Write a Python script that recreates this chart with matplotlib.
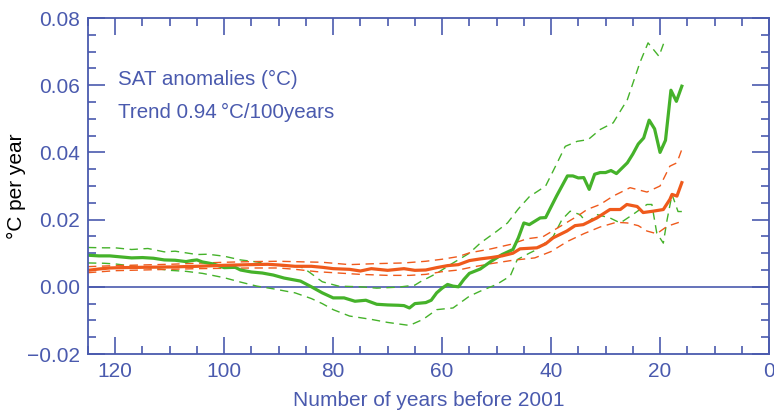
import numpy as np
import matplotlib
matplotlib.use('Agg')
import matplotlib.pyplot as plt
import matplotlib.ticker as ticker

# years before 2001 and trend values (degC per year)
green_x = [125, 123, 121, 119, 117, 115, 113, 111, 109, 107, 106, 105, 104, 102, 100, 98, 97, 95, 93, 91,
           89, 87, 86, 84, 82, 80, 78, 76, 74, 72, 70, 68, 67, 66, 65, 63, 62, 61, 60, 59, 58, 57, 56, 55,
           53, 51, 49, 47, 46, 45, 44, 42, 41, 39, 37, 36, 35, 34, 33, 32, 31, 30, 29, 28, 26, 25, 24, 23,
           22, 21, 20, 19, 18, 17, 16]
green_y = [0.0094, 0.0092, 0.0092, 0.0089, 0.0086, 0.0087, 0.0085, 0.0080, 0.0079, 0.0075, 0.0078, 0.0080,
           0.0074, 0.0068, 0.0057, 0.0058, 0.0050, 0.0044, 0.0041, 0.0035, 0.0026, 0.0020, 0.0017, 0.0000,
           -0.0018, -0.0033, -0.0033, -0.0043, -0.0040, -0.0052, -0.0054, -0.0055, -0.0056, -0.0063, -0.0050,
           -0.0047, -0.0040, -0.0018, -0.0004, 0.0007, 0.0002, 0.0000, 0.0022, 0.0040, 0.0053, 0.0076, 0.0096,
           0.0111, 0.0146, 0.0190, 0.0185, 0.0205, 0.0206, 0.0270, 0.0330, 0.0330, 0.0324, 0.0325, 0.0290,
           0.0335, 0.0340, 0.0340, 0.0346, 0.0337, 0.0369, 0.0395, 0.0425, 0.0443, 0.0496, 0.0470, 0.0400,
           0.0436, 0.0585, 0.0552, 0.0597]

green_hi_x = [125, 122, 120, 117, 114, 111, 109, 107, 105, 103, 100, 97, 94, 92, 90, 87, 86, 84.5, 82, 79,
              75, 72, 68, 65, 64, 61, 58.5, 55, 53, 50, 48, 46, 44, 41, 39, 37.4, 35.2, 33.2, 31, 28.6, 26,
              23.7, 22.2, 20.2, 19.3]
green_hi_y = [0.0117, 0.0116, 0.0116, 0.0111, 0.0114, 0.0104, 0.0106, 0.0101, 0.0096, 0.0097, 0.0091, 0.0080,
              0.0074, 0.0068, 0.0063, 0.0062, 0.0060, 0.0045, 0.0015, 0.0002, 0.0000, -0.0004, -0.0001,
              0.0005, 0.0015, 0.0040, 0.0066, 0.0100, 0.0130, 0.0165, 0.0190, 0.0232, 0.0268, 0.0300, 0.0365,
              0.0418, 0.0433, 0.0438, 0.0468, 0.0488, 0.0557, 0.0667, 0.0726, 0.0686, 0.0726]

green_lo_x = [125, 122, 120, 117, 114, 110, 107, 104, 100, 97, 94, 91, 87, 84, 82, 80, 77, 73, 70, 66,
              63.5, 61, 58, 55, 53, 50, 47.5, 46.2, 44, 42.6, 39.6, 38, 36.5, 34.7, 33.4, 31.6, 29.2, 27.3,
              25, 22.4, 21.5, 20.6, 19.4, 18.7, 17.8, 16.7, 16]
green_lo_y = [0.0071, 0.0070, 0.0068, 0.0062, 0.0057, 0.0049, 0.0046, 0.0040, 0.0027, 0.0014, 0.0002,
              -0.0006, -0.0018, -0.0035, -0.0050, -0.0068, -0.0087, -0.0097, -0.0106, -0.0115, -0.0097,
              -0.0068, -0.0063, -0.0028, -0.0013, 0.0007, 0.0032, 0.0081, 0.0100, 0.0111, 0.0150, 0.0200,
              0.0225, 0.0215, 0.0190, 0.0215, 0.0205, 0.0190, 0.0215, 0.0245, 0.0245, 0.0160, 0.0130, 0.0200,
              0.0275, 0.0224, 0.0224]

orange_x = [125, 123, 121, 119, 115, 110, 105, 100, 95, 92, 90, 87, 84, 82, 80, 77, 75, 73, 70, 67, 65,
            63, 61, 59, 57, 55, 53, 51, 49, 47, 45.7, 42.6, 41, 39.6, 37.1, 35.6, 34.1, 31.6, 29.2, 27.3,
            26.1, 24.2, 23.1, 21.3, 19.4, 18.2, 17.8, 16.9, 16]
orange_y = [0.0049, 0.0053, 0.0056, 0.0057, 0.0058, 0.0059, 0.0061, 0.0064, 0.0066, 0.0067, 0.0065, 0.0061,
            0.0061, 0.0058, 0.0054, 0.0052, 0.0047, 0.0054, 0.0049, 0.0054, 0.0049, 0.0050, 0.0057, 0.0063,
            0.0066, 0.0078, 0.0083, 0.0087, 0.0092, 0.0100, 0.0113, 0.0116, 0.0128, 0.0146, 0.0166, 0.0182,
            0.0185, 0.0205, 0.0230, 0.0230, 0.0245, 0.0239, 0.0221, 0.0225, 0.0230, 0.0260, 0.0275, 0.0270,
            0.0310]

orange_hi_x = [125, 120, 115, 110, 105, 100, 95, 90, 85, 82, 77, 72, 67, 63, 60, 57, 55, 51, 47.5, 44.4,
               41.5, 38.3, 35, 33.4, 31, 28.6, 25.5, 22.4, 20, 18.2, 16.9, 16]
orange_hi_y = [0.0060, 0.0063, 0.0065, 0.0067, 0.0070, 0.0073, 0.0075, 0.0076, 0.0074, 0.0073, 0.0066,
               0.0069, 0.0071, 0.0076, 0.0082, 0.0090, 0.0101, 0.0113, 0.0126, 0.0143, 0.0149, 0.0180,
               0.0212, 0.0230, 0.0245, 0.0270, 0.0295, 0.0282, 0.0300, 0.0359, 0.0369, 0.0409]

orange_lo_x = [125, 120, 115, 110, 105, 100, 95, 90, 87, 83, 80, 75, 70, 66, 63, 60, 57, 55, 51, 47, 43,
               40, 37, 34, 31, 28, 26, 24, 22.4, 20.6, 18.7, 16.5]
orange_lo_y = [0.0042, 0.0048, 0.0050, 0.0052, 0.0054, 0.0055, 0.0056, 0.0056, 0.0052, 0.0045, 0.0042,
               0.0037, 0.0034, 0.0034, 0.0037, 0.0045, 0.0050, 0.0057, 0.0069, 0.0079, 0.0086, 0.0105,
               0.0135, 0.0158, 0.0178, 0.0192, 0.0190, 0.0182, 0.0166, 0.0158, 0.0180, 0.0192]

blue = '#4a5aae'
green = '#45b22a'
orange = '#ef5a1c'

plt.rcParams['font.family'] = ['Liberation Sans', 'DejaVu Sans']

fig = plt.figure(figsize=(7.74, 4.17), dpi=100)
ax = fig.add_axes([88 / 774, 1 - 354 / 417, (769 - 88) / 774, (354 - 18) / 417])

dash = (6, 4)
ax.axhline(0, color=blue, lw=1.2, zorder=1)
ax.plot(green_hi_x, green_hi_y, color=green, lw=1.0, dashes=dash)
ax.plot(green_lo_x, green_lo_y, color=green, lw=1.0, dashes=dash)
ax.plot(orange_hi_x, orange_hi_y, color=orange, lw=1.0, dashes=dash)
ax.plot(orange_lo_x, orange_lo_y, color=orange, lw=1.0, dashes=dash)
ax.plot(green_x, green_y, color=green, lw=2.3)
ax.plot(orange_x, orange_y, color=orange, lw=2.3)

ax.set_xlim(125, 0)
ax.set_ylim(-0.02, 0.08)
ax.xaxis.set_major_locator(ticker.MultipleLocator(20))
ax.xaxis.set_minor_locator(ticker.MultipleLocator(5))
ax.yaxis.set_major_locator(ticker.MultipleLocator(0.02))
ax.yaxis.set_minor_locator(ticker.MultipleLocator(0.005))
ax.yaxis.set_major_formatter(ticker.FuncFormatter(
    lambda v, pos: ('\u2212' if v < -1e-9 else '') + '{:.2f}'.format(abs(v))))

ax.tick_params(which='both', direction='in', top=True, right=True, color=blue, width=1.2,
               labelcolor=blue, labelsize=15)
ax.tick_params(which='major', length=12, pad=6)
ax.tick_params(which='minor', length=6)
for s in ax.spines.values():
    s.set_color(blue)
    s.set_linewidth(1.3)

ax.set_xlabel('Number of years before 2001', color=blue, fontsize=15, labelpad=7)
ax.set_ylabel('\u00b0C per year', color='black', fontsize=15)
ax.yaxis.set_label_coords((26 - 88) / 681, 0.5)

# annotation texts, positioned in pixels from the top-left corner
notes = ['SAT anomalies (\u00b0C)', 'Trend 0.94\u2009\u00b0C/100years']
note_y = [85, 118]
for s, yp in zip(notes, note_y):
    fig.text(118 / 774, 1 - yp / 417, s, color=blue, fontsize=14.8)

fig.savefig('out.png', dpi=100)
